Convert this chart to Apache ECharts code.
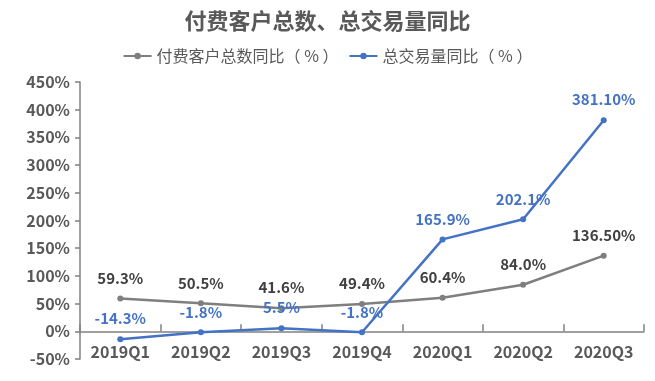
<!DOCTYPE html>
<html><head><meta charset="utf-8">
<script src="https://cdn.jsdelivr.net/npm/echarts@6/dist/echarts.min.js"></script>
<style>html,body{margin:0;padding:0;background:#fff}#c{width:655px;height:381px}</style>
</head><body><div id="c"></div>
<script>
var categories = ['2019Q1','2019Q2','2019Q3','2019Q4','2020Q1','2020Q2','2020Q3'];
var customers = [59.3, 50.5, 41.6, 49.4, 60.4, 84.0, 136.5];
var customerLabels = ['59.3%','50.5%','41.6%','49.4%','60.4%','84.0%','136.50%'];
var volume = [-14.3, -1.8, 5.5, -1.8, 165.9, 202.1, 381.1];
var volumeLabels = ['-14.3%','-1.8%','5.5%','-1.8%','165.9%','202.1%','381.10%'];
var seriesNames = ['付费客户总数同比（ % ）','总交易量同比（ % ）'];
var FONT = '"Noto Sans CJK SC", "Noto Sans", sans-serif';
var chart = echarts.init(document.getElementById('c'));
chart.setOption({
  animation: false,
  title: {text: '付费客户总数、总交易量同比', left: 'center', top: 5,
    textStyle: {fontFamily: FONT, fontSize: 22, fontWeight: 'bold', color: '#595959'}},
  legend: {top: 43, left: 'center', itemWidth: 28, itemHeight: 8, itemGap: 10,
    textStyle: {fontFamily: FONT, fontSize: 16, color: '#595959'}},
  grid: {left: 80, right: 11, top: 82, bottom: 22, containLabel: false},
  xAxis: {type: 'category', data: categories, boundaryGap: true,
    axisLine: {onZero: true, lineStyle: {color: '#808080', width: 1.5}},
    axisTick: {show: true, inside: true, lineStyle: {color: '#808080', width: 1.5}, length: 7},
    axisLabel: {fontFamily: FONT, fontSize: 16, fontWeight: 'bold', color: '#595959', margin: -15}},
  yAxis: {type: 'value', min: -50, max: 450, interval: 50,
    splitLine: {show: false},
    axisLine: {show: true, lineStyle: {color: '#808080', width: 1.5}},
    axisTick: {show: true, lineStyle: {color: '#808080', width: 1.5}, length: 5},
    axisLabel: {fontFamily: FONT, fontSize: 16, fontWeight: 'bold', color: '#595959', margin: 10,
      formatter: function(v){return v + '%';}}},
  series: [
    {name: seriesNames[0], type: 'line', data: customers, symbol: 'circle', symbolSize: 6,
      itemStyle: {color: '#7f7f7f'}, lineStyle: {color: '#7f7f7f', width: 2.5},
      label: {show: true, position: 'top', distance: 10, fontFamily: FONT, fontSize: 15, fontWeight: 'bold', color: '#404040',
        formatter: function(p){return customerLabels[p.dataIndex];}}},
    {name: seriesNames[1], type: 'line', data: volume, symbol: 'circle', symbolSize: 6,
      itemStyle: {color: '#4472C4'}, lineStyle: {color: '#4472C4', width: 2.5},
      label: {show: true, position: 'top', distance: 10, fontFamily: FONT, fontSize: 15, fontWeight: 'bold', color: '#4472C4',
        formatter: function(p){return volumeLabels[p.dataIndex];}}}
  ]
});
</script></body></html>
